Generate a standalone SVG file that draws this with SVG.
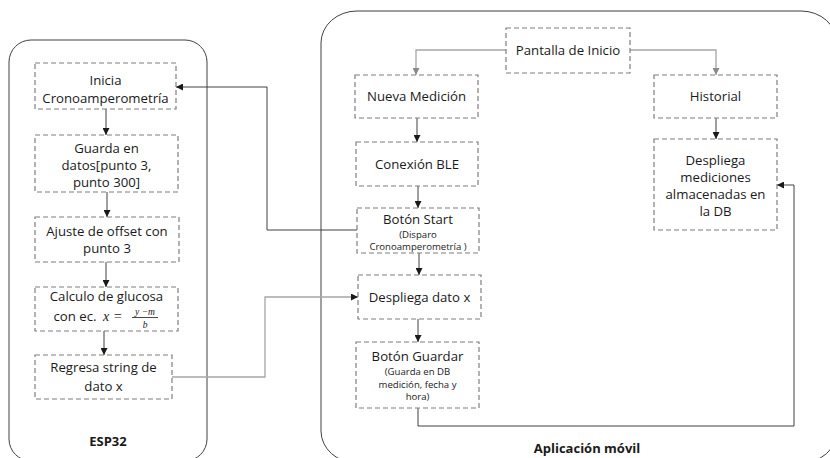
<svg xmlns="http://www.w3.org/2000/svg" width="830" height="458" viewBox="0 0 830 458">
<defs>
<style>
.panel{fill:none;stroke:#404040;stroke-width:1}
.box{fill:#fff;stroke:#7f7f7f;stroke-width:1.2;stroke-dasharray:5 3}
.t{font-family:"Open Sans","Noto Sans",sans-serif;font-size:13.2px;fill:#1a1a1a;text-anchor:middle}
.s{font-family:"Open Sans","Noto Sans",sans-serif;font-size:9.6px;fill:#1a1a1a;text-anchor:middle}
.b{font-family:"Open Sans","Noto Sans",sans-serif;font-size:13px;font-weight:bold;fill:#1a1a1a;text-anchor:middle}
.m{font-family:"Liberation Serif",serif;font-style:italic;fill:#1a1a1a}
.c{fill:none;stroke:#404040;stroke-width:1}
.g{fill:none;stroke:#a6a6a6;stroke-width:1.3}
</style>
<marker id="ad" viewBox="0 0 8 8" refX="8" refY="4" markerWidth="7" markerHeight="7" markerUnits="userSpaceOnUse" orient="auto"><path d="M0,0 L8,4 L0,8 Z" fill="#1a1a1a"/></marker>
<marker id="ag" viewBox="0 0 8 8" refX="8" refY="4" markerWidth="7" markerHeight="7" markerUnits="userSpaceOnUse" orient="auto"><path d="M0,0 L8,4 L0,8 Z" fill="#8a8a8a"/></marker>
</defs>
<rect x="0" y="0" width="830" height="458" fill="#fff"/>
<g id="esp32-panel">
<rect class="panel" x="9" y="40" width="198" height="421" rx="22" ry="22"/>
<text class="b" x="108" y="446">ESP32</text>
</g>
<g id="app-panel">
<rect class="panel" x="321" y="11" width="516" height="452" rx="36" ry="32"/>
<text class="b" x="587" y="453">Aplicación móvil</text>
</g>
<g id="connectors">
<path class="c" d="M106,109 V135" marker-end="url(#ad)"/>
<path class="c" d="M107,192 V217" marker-end="url(#ad)"/>
<path class="c" d="M106,262 V287" marker-end="url(#ad)"/>
<path class="c" d="M104,331 V355" marker-end="url(#ad)"/>
<path class="g" d="M506,50 H416 V75" marker-end="url(#ag)"/>
<path class="g" d="M630,50 H716 V75" marker-end="url(#ag)"/>
<path class="c" d="M417,118 V142" marker-end="url(#ad)"/>
<path class="c" d="M716,118 V139" marker-end="url(#ad)"/>
<path class="c" d="M418,186 V208" marker-end="url(#ad)"/>
<path class="c" d="M419,253 V275" marker-end="url(#ad)"/>
<path class="c" d="M418,319 V342" marker-end="url(#ad)"/>
<path class="c" d="M418,408 V426 H794 V185 H777" marker-end="url(#ad)"/>
<path class="c" d="M357,230 H267 V87 H176" marker-end="url(#ad)"/>
<path class="g" d="M172,377 H265 V297 H358" marker-end="url(#ad)"/>
</g>
<g id="inicia">
<rect class="box" x="35" y="63" width="141" height="46"/>
<text class="t" x="105.5" y="84.5">Inicia</text>
<text class="t" x="105.5" y="102.5">Cronoamperometría</text>
</g>
<g id="guarda">
<rect class="box" x="35" y="135" width="143" height="57"/>
<text class="t" x="106.5" y="153">Guarda en</text>
<text class="t" x="106.5" y="170">datos[punto 3,</text>
<text class="t" x="106.5" y="187">punto 300]</text>
</g>
<g id="ajuste">
<rect class="box" x="35" y="217" width="144" height="45"/>
<text class="t" x="107" y="236">Ajuste de offset con</text>
<text class="t" x="107" y="253">punto 3</text>
</g>
<g id="calculo">
<rect class="box" x="35" y="287" width="143" height="44"/>
<text class="t" x="106.5" y="301">Calculo de glucosa</text>
<text class="t" x="75" y="321">con ec.</text>
<text class="m" x="103" y="321" font-size="14">x</text>
<text class="m" x="113" y="321" font-size="14" font-style="normal">=</text>
<text class="m" x="145" y="314.5" font-size="9.5" text-anchor="middle">y −m</text>
<line x1="132" y1="317.5" x2="158" y2="317.5" stroke="#1a1a1a" stroke-width="0.8"/>
<text class="m" x="145" y="328" font-size="9.5" text-anchor="middle">b</text>
</g>
<g id="regresa">
<rect class="box" x="35" y="355" width="137" height="44"/>
<text class="t" x="103.5" y="372">Regresa string de</text>
<text class="t" x="103.5" y="391">dato x</text>
</g>
<g id="pantalla">
<rect class="box" x="506" y="28" width="124" height="45"/>
<text class="t" x="568" y="55">Pantalla de Inicio</text>
</g>
<g id="nueva">
<rect class="box" x="355" y="75" width="123" height="43"/>
<text class="t" x="416.5" y="101">Nueva Medición</text>
</g>
<g id="historial">
<rect class="box" x="654" y="75" width="123" height="43"/>
<text class="t" x="715.5" y="101">Historial</text>
</g>
<g id="conexion">
<rect class="box" x="356" y="142" width="122" height="44"/>
<text class="t" x="417" y="169">Conexión BLE</text>
</g>
<g id="start">
<rect class="box" x="357" y="208" width="122" height="45"/>
<text class="t" x="418" y="224">Botón Start</text>
<text class="s" x="418" y="238">(Disparo</text>
<text class="s" x="418" y="249.5">Cronoamperometría )</text>
</g>
<g id="despliega-dato">
<rect class="box" x="358" y="275" width="123" height="44"/>
<text class="t" x="419.5" y="302">Despliega dato x</text>
</g>
<g id="guardar">
<rect class="box" x="356" y="342" width="123" height="66"/>
<text class="t" x="417.5" y="361">Botón Guardar</text>
<text class="s" x="417.5" y="375">(Guarda en DB</text>
<text class="s" x="417.5" y="387.5">medición, fecha y</text>
<text class="s" x="417.5" y="400">hora)</text>
</g>
<g id="despliega-mediciones">
<rect class="box" x="654" y="139" width="123" height="91"/>
<text class="t" x="715.5" y="165">Despliega</text>
<text class="t" x="715.5" y="182">mediciones</text>
<text class="t" x="715.5" y="199">almacenadas en</text>
<text class="t" x="715.5" y="216">la DB</text>
</g>
</svg>
